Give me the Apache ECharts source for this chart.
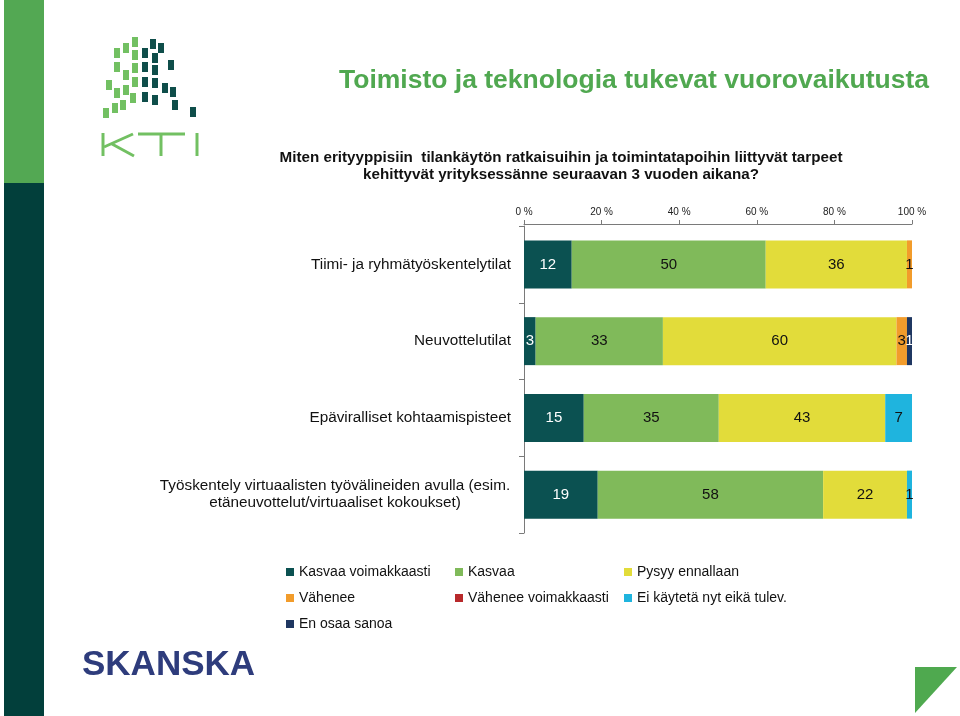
<!DOCTYPE html>
<html>
<head>
<meta charset="utf-8">
<script src="https://cdn.jsdelivr.net/npm/echarts@6/dist/echarts.min.js"></script>
<style>
html,body{margin:0;padding:0;background:#fff;}
#chart{width:960px;height:716px;}
</style>
</head>
<body>
<div id="chart"></div>
<script>
// ---- Data ----
const categories = [
  'Tiimi- ja ryhmätyöskentelytilat',
  'Neuvottelutilat',
  'Epäviralliset kohtaamispisteet',
  'Työskentely virtuaalisten työvälineiden avulla (esim.\netäneuvottelut/virtuaaliset kokoukset)'
];
const seriesNames = [
  'Kasvaa voimakkaasti',
  'Kasvaa',
  'Pysyy ennallaan',
  'Vähenee',
  'Vähenee voimakkaasti',
  'Ei käytetä nyt eikä tulev.',
  'En osaa sanoa'
];
const kasvaaVoimakkaasti = [12.3, 3.0, 15.4, 19.0];
const kasvaa = [50.0, 32.8, 34.8, 58.1];
const pysyyEnnallaan = [36.4, 60.2, 42.9, 21.6];
const vahenee = [1.3, 2.7, 0, 0];
const vaheneeVoimakkaasti = [0, 0, 0, 0];
const eiKayteta = [0, 0, 6.9, 1.3];
const enOsaaSanoa = [0, 1.3, 0, 0];
const xTicks = ['0 %', '20 %', '40 %', '60 %', '80 %', '100 %'];

const seriesData = [kasvaaVoimakkaasti, kasvaa, pysyyEnnallaan, vahenee, vaheneeVoimakkaasti, eiKayteta, enOsaaSanoa];
const colors = ['#0b5151', '#80ba5a', '#e2dc3a', '#f29c2b', '#b8292b', '#1fb4de', '#1f3761'];
const labelColors = ['#fff', '#111', '#111', '#111', '#fff', '#111', '#fff'];

const FONT = 'Liberation Sans, Arial, sans-serif';

const chart = echarts.init(document.getElementById('chart'), null, {renderer: 'canvas'});

// KTI logo squares (decoration)
const greenSq = [[114,48],[123,43],[132,37],[114,62],[132,50],[123,70],[132,63],[106,80],[114,88],[123,85],[132,77],[103,108],[112,103],[120,100],[130,93]];
const darkSq = [[150,39],[158,43],[142,48],[152,53],[168,60],[142,62],[152,65],[142,77],[152,78],[162,83],[170,87],[142,92],[152,95],[172,100],[190,107]];
const logo = [];
greenSq.forEach(p => logo.push({type:'rect', shape:{x:p[0], y:p[1], width:6, height:10}, style:{fill:'#72c062'}, silent:true}));
darkSq.forEach(p => logo.push({type:'rect', shape:{x:p[0], y:p[1], width:6, height:10}, style:{fill:'#0f4e4a'}, silent:true}));
const ktiStroke = {stroke:'#72c062', lineWidth:3, fill:null};
logo.push({type:'polyline', shape:{points:[[103,133],[103,156]]}, style:ktiStroke, silent:true});
logo.push({type:'polyline', shape:{points:[[104,147],[133,134]]}, style:ktiStroke, silent:true});
logo.push({type:'polyline', shape:{points:[[112,144],[134,156]]}, style:ktiStroke, silent:true});
logo.push({type:'polyline', shape:{points:[[138,134],[185,134]]}, style:ktiStroke, silent:true});
logo.push({type:'polyline', shape:{points:[[161,134],[161,156]]}, style:ktiStroke, silent:true});
logo.push({type:'polyline', shape:{points:[[197,133],[197,156]]}, style:ktiStroke, silent:true});

const legendCommon = {
  orient: 'vertical',
  top: 564,
  padding: 0,
  itemWidth: 8,
  itemHeight: 8,
  itemGap: 10,
  icon: 'rect',
  selectedMode: false,
  textStyle: {fontFamily: FONT, fontSize: 14, color: '#111', lineHeight: 16}
};

const option = {
  animation: false,
  color: colors,
  textStyle: {fontFamily: FONT},
  graphic: [
    {type:'rect', shape:{x:4, y:0, width:40, height:183}, style:{fill:'#53a853'}, silent:true},
    {type:'rect', shape:{x:4, y:183, width:40, height:533}, style:{fill:'#023f3b'}, silent:true},
    ...logo,
    {type:'text', x:339, y:67, style:{text:'Toimisto ja teknologia tukevat vuorovaikutusta', font:'bold 26.5px ' + FONT, fill:'#50a850', align:'left', verticalAlign:'top'}, silent:true},
    {type:'text', x:561, y:149, style:{text:'Miten erityyppisiin  tilankäytön ratkaisuihin ja toimintatapoihin liittyvät tarpeet\nkehittyvät yrityksessänne seuraavan 3 vuoden aikana?', font:'bold 15.2px ' + FONT, lineHeight:17, fill:'#111', align:'center', verticalAlign:'top'}, silent:true},
    {type:'text', x:82, y:648, style:{text:'SKANSKA', font:'bold 35px ' + FONT, fill:'#2e3c7c', align:'left', verticalAlign:'top'}, silent:true},
    {type:'polygon', shape:{points:[[915,667],[957,667],[915,713]]}, style:{fill:'#4fa94f'}, silent:true}
  ],
  legend: [
    Object.assign({left: 286, data: [seriesNames[0], seriesNames[3], seriesNames[6]]}, legendCommon),
    Object.assign({left: 455, data: [seriesNames[1], seriesNames[4]]}, legendCommon),
    Object.assign({left: 624, data: [seriesNames[2], seriesNames[5]]}, legendCommon)
  ],
  grid: {left: 524, right: 48, top: 226, bottom: 183, containLabel: false},
  xAxis: {
    type: 'value',
    position: 'top',
    offset: 2,
    min: 0,
    max: 100,
    interval: 20,
    splitLine: {show: false},
    axisLine: {show: true, lineStyle: {color: '#7a7a7a', width: 1}},
    axisTick: {show: true, length: 4, lineStyle: {color: '#7a7a7a'}},
    axisLabel: {
      fontSize: 10, color: '#222', margin: 7,
      formatter: function (v) { return xTicks[Math.round(v / 20)]; }
    }
  },
  yAxis: {
    type: 'category',
    inverse: true,
    data: categories,
    axisLine: {show: true, lineStyle: {color: '#7a7a7a', width: 1}},
    axisTick: {show: true, length: 5, lineStyle: {color: '#7a7a7a'}},
    axisLabel: {
      fontSize: 15.3, color: '#111', margin: 13, align: 'right',
      formatter: function (v) {
        if (v.indexOf('\n') >= 0) {
          return v.split('\n').map(s => '{c|' + s + '}').join('\n');
        }
        return v;
      },
      rich: {c: {width: 352, align: 'center', fontSize: 15.3, lineHeight: 17, color: '#111'}}
    }
  },
  series: seriesNames.map((name, i) => ({
    name: name,
    type: 'bar',
    stack: 'total',
    barWidth: 48,
    data: seriesData[i],
    itemStyle: {color: colors[i]},
    label: {
      show: true,
      position: 'inside',
      fontSize: 15,
      color: labelColors[i],
      formatter: function (p) { return p.value > 0 ? String(Math.round(p.value)) : ''; }
    },
    emphasis: {disabled: true}
  }))
};

chart.setOption(option);
</script>
</body>
</html>
